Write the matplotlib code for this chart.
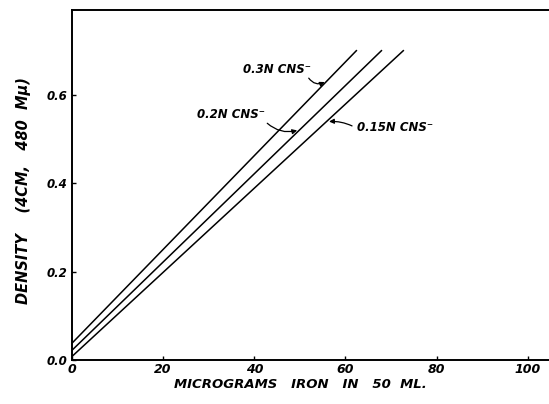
"""Density vs micrograms iron, three CNS- concentrations"""

import matplotlib
matplotlib.use('Agg')
import matplotlib.pyplot as plt

# line endpoints (x = micrograms iron, y = density)
labels = ['0.3N CNS\u207b', '0.2N CNS\u207b', '0.15N CNS\u207b']
x_start = [0.0, 0.0, 0.0]
y_start = [0.038, 0.022, 0.008]
x_end = [62.4, 67.9, 72.7]
y_end = [0.70, 0.70, 0.70]

xticks = [0, 20, 40, 60, 80, 100]
yticks = [0.0, 0.2, 0.4, 0.6]
ytick_labels = ['0.0', '0.2', '0.4', '0.6']

font = dict(family='DejaVu Sans', weight='bold', style='italic')

fig = plt.figure(figsize=(5.49, 4.04), dpi=100)
ax = fig.add_axes([0.1311, 0.1089, 0.87, 0.8663])

for i in range(len(labels)):
    ax.plot([x_start[i], x_end[i]], [y_start[i], y_end[i]], color='black', lw=1.1)

ax.set_xlim(0, 104.8)
ax.set_ylim(0, 0.792)
ax.set_xticks(xticks)
ax.set_xticklabels([str(v) for v in xticks], fontsize=9, **font)
ax.set_yticks(yticks)
ax.set_yticklabels(ytick_labels, fontsize=8.5, **font)
ax.tick_params(direction='in', length=3, width=1, pad=2)
ax.tick_params(axis='y', pad=3)
for s in ['left', 'bottom', 'top']:
    ax.spines[s].set_linewidth(1.4)
ax.spines['right'].set_visible(False)

ax.set_xlabel('MICROGRAMS   IRON   IN   50  ML.', fontsize=9.5, **font)
ax.set_ylabel('DENSITY    (4CM,   480  M\u03bc)', fontsize=10.5, **font)
ax.xaxis.set_label_coords(0.478, -0.05)
ax.yaxis.set_label_coords(-0.085, 0.485)


def on_line(i, x):
    slope = (y_end[i] - y_start[i]) / (x_end[i] - x_start[i])
    return x, y_start[i] + slope * (x - x_start[i])


# labels with curved arrows pointing at each line
label_pos = [(37.6, 0.657), (27.5, 0.556), (62.5, 0.527)]
tail_pos = [(51.6, 0.643), (42.4, 0.540), (62.0, 0.527)]
arrow_x = [56.0, 50.0, 55.8]
rads = [0.5, 0.3, 0.15]
for i in range(len(labels)):
    ax.text(label_pos[i][0], label_pos[i][1], labels[i], fontsize=8.5,
            ha='left', va='center', **font)
    ax.annotate('', xy=on_line(i, arrow_x[i]), xytext=tail_pos[i],
                arrowprops=dict(arrowstyle='-|>', color='black', lw=0.9,
                                mutation_scale=7,
                                connectionstyle='arc3,rad=%.2f' % rads[i]))

plt.savefig('out.png', dpi=100)
